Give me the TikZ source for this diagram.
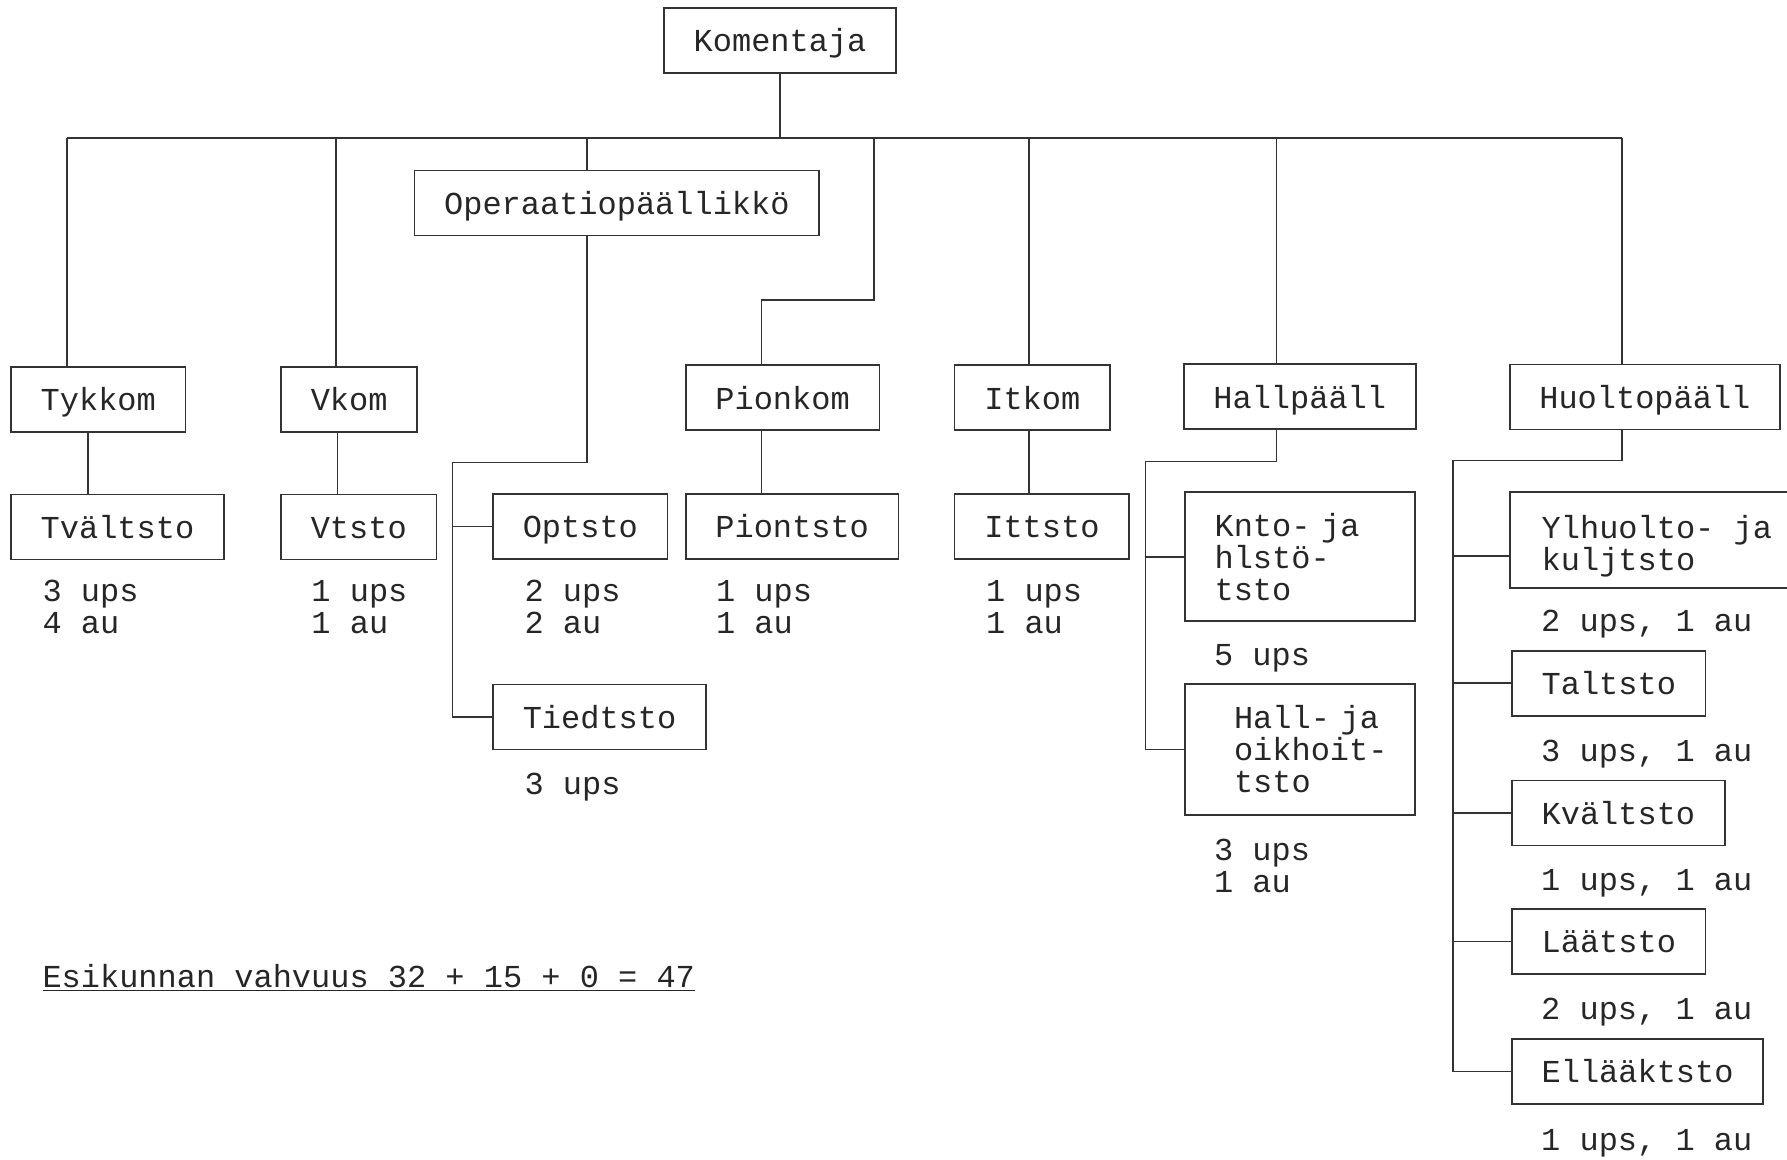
\documentclass[tikz,border=0pt]{standalone}
\usepackage{fontspec}
\setmonofont{Liberation Mono}
\newcommand{\orgfont}{\ttfamily\fontsize{18.2pt}{18.2pt}\selectfont}

\tikzset{
  unit/.style={draw=black!80, text=black!85, rectangle, anchor=west, inner xsep=0.593cm, inner ysep=0pt, minimum height=1.3cm, line width=0.9pt, font=\orgfont},
  single/.style={unit, text height=14pt, text depth=1pt},
  note/.style={anchor=west, align=left, inner sep=0pt, text=black!85, font=\orgfont},
  link/.style={draw=black!80, line width=0.9pt}
}

\begin{document}
\begin{tikzpicture}[x=0.0228cm, y=-0.0228cm]
        \useasboundingbox (0,0) rectangle (1568,1017);

        % Node definitions
        \node (kom) [single] at (582,35.5) {Komentaja};
        \node (opc) [single] at (363,178) {Operaatiopäällikkö};

        \node (tyk) [single] at (9,350.5) {Tykkom};
        \node (vkom) [single] at (246,350.5) {Vkom};
        \node (pion) [single] at (601,349) {Pionkom};
        \node (itk) [single] at (837,349) {Itkom};
        \node (hall) [single] at (1038,348) {Hallpääll};
        \node (huol) [single] at (1324,348.5) {Huoltopääll};

        \node (tvalt) [single] at (9,462.5) {Tvältsto};
        \node (vtsto) [single] at (246,462.5) {Vtsto};
        \node (opt) [single] at (432,462) {Optsto};
        \node (tied) [single] at (432,629) {Tiedtsto};
        \node (piont) [single] at (601,462) {Piontsto};
        \node (itt) [single] at (837,462) {Ittsto};

        \node (knto) [unit, align=left, text width=3.42cm, minimum height=2.58cm] at (1039,488.5) {Knto- ja\\hlstö-\\tsto};
        \node (hallo) [unit, align=left, text width=3.42cm, minimum height=2.62cm] at (1039,657.5) {\hspace*{0.39cm}Hall- ja\\\hspace*{0.39cm}oikhoit-\\\hspace*{0.39cm}tsto};

        \node (ylh) [unit, align=left, inner xsep=0.64cm, minimum height=1.92cm] at (1324,474) {\rule{0pt}{20pt}Ylhuolto- ja\\kuljtsto};
        \node (talt) [single] at (1326,599.5) {Taltsto};
        \node (kvalt) [single] at (1326,713.5) {Kvältsto};
        \node (laat) [single] at (1326,826) {Läätsto};
        \node (ellaak) [single] at (1326,940) {Ellääktsto};

        % Strength notes
        \node (ntvalt) [note] at (37,533) {3 ups\\4 au};
        \node (nvtsto) [note] at (273,533) {1 ups\\1 au};
        \node (nopt) [note] at (460,533) {2 ups\\2 au};
        \node (npiont) [note] at (628,533) {1 ups\\1 au};
        \node (nitt) [note] at (865,533) {1 ups\\1 au};
        \node (ntied) [note] at (460,691) {3 ups};
        \node (nknto) [note] at (1065,578) {5 ups};
        \node (nhallo) [note] at (1065,760) {3 ups\\1 au};
        \node (nylh) [note] at (1352,548) {2 ups, 1 au};
        \node (ntalt) [note] at (1352,662) {3 ups, 1 au};
        \node (nkvalt) [note] at (1352,775) {1 ups, 1 au};
        \node (nlaat) [note] at (1352,888) {2 ups, 1 au};
        \node (nellaak) [note] at (1352,1003) {1 ups, 1 au};

        \node (total) [note] at (37,858) {\underline{Esikunnan vahvuus 32 + 15 + 0 = 47}};

        % Connecting lines
        \coordinate (busL) at (59,121);
        \coordinate (busR) at (1423,121);
        \coordinate (bV) at (295,121);
        \coordinate (bO) at (515,121);
        \coordinate (bP) at (767,121);
        \coordinate (bI) at (903,121);
        \coordinate (bH) at (1120,121);
        \coordinate (jP) at (668,263);
        \coordinate (jO) at (397,406);
        \coordinate (jH) at (1005,405);
        \coordinate (jU) at (1275,404);
        \coordinate (sT) at (77,0);
        \coordinate (sV) at (296,0);
        \coordinate (kY) at ([yshift=-0.32cm]ylh.west);

        \draw[link] (busL) -- (busR);
        \draw[link] (kom.south) -- (kom.south |- busL);
        \draw[link] (busL) -- (busL |- tyk.north);
        \draw[link] (bV) -- (bV |- vkom.north);
        \draw[link] (bO) -- (bO |- opc.north);
        \draw[link] (bP) |- (jP) -- (jP |- pion.north);
        \draw[link] (bI) -- (bI |- itk.north);
        \draw[link] (bH) -- (bH |- hall.north);
        \draw[link] (busR) -- (busR |- huol.north);

        \draw[link] (sT |- tyk.south) -- (sT |- tvalt.north);
        \draw[link] (sV |- vkom.south) -- (sV |- vtsto.north);
        \draw[link] (jP |- pion.south) -- (jP |- piont.north);
        \draw[link] (bI |- itk.south) -- (bI |- itt.north);

        \draw[link] (bO |- opc.south) |- (jO) |- (tied.west);
        \draw[link] (jO |- opt.west) -- (opt.west);

        \draw[link] (bH |- hall.south) |- (jH) |- (hallo.west);
        \draw[link] (jH |- knto.west) -- (knto.west);

        \draw[link] (busR |- huol.south) |- (jU) |- (ellaak.west);
        \draw[link] (jU |- kY) -- (kY);
        \draw[link] (jU |- talt.west) -- (talt.west);
        \draw[link] (jU |- kvalt.west) -- (kvalt.west);
        \draw[link] (jU |- laat.west) -- (laat.west);
    \end{tikzpicture}
\end{document}
